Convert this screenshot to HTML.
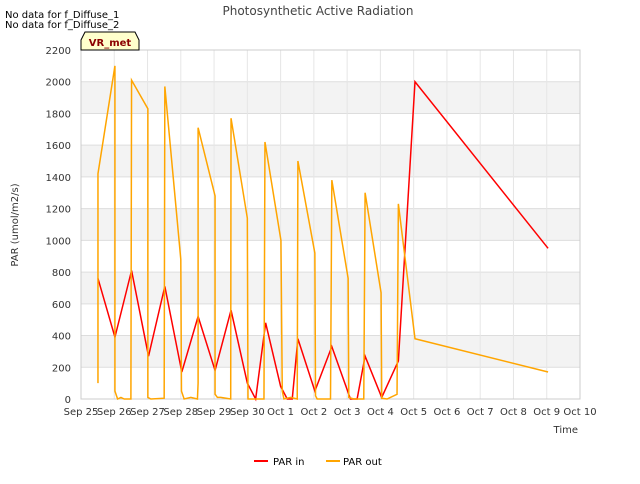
<!DOCTYPE html><html><head><meta charset="utf-8"><style>body{margin:0;background:#fff;font-family:"DejaVu Sans","Liberation Sans",sans-serif}</style></head><body>
<svg width="640" height="480" font-family="DejaVu Sans, Liberation Sans, sans-serif">
<text x="5" y="18" font-size="10">No data for f_Diffuse_1</text>
<text x="5" y="28" font-size="10">No data for f_Diffuse_2</text>
<text x="318" y="15" font-size="12" fill="#444" text-anchor="middle">Photosynthetic Active Radiation</text>
<g id="plot"></g>
<path d="M81,40 L85,32 L135,32 L139,40 L139,50 L81,50 Z" fill="#ffffcc" stroke="#000"/>
<text x="110" y="46" font-size="10" font-weight="bold" fill="#8b0000" text-anchor="middle">VR_met</text>
<text transform="translate(18,225) rotate(-90)" font-size="10" fill="#333" text-anchor="middle">PAR (umol/m2/s)</text>
<text x="578" y="433" font-size="10" fill="#333" text-anchor="end">Time</text>
<g>
<line x1="254" y1="461" x2="268" y2="461" stroke="#ff0000" stroke-width="2"/>
<text x="273" y="465" font-size="10">PAR in</text>
<line x1="326" y1="461" x2="340" y2="461" stroke="#ffa500" stroke-width="2"/>
<text x="343" y="465" font-size="10">PAR out</text>
</g>
</svg>
<script>
const xTickLabels=["Sep 25","Sep 26","Sep 27","Sep 28","Sep 29","Sep 30","Oct 1","Oct 2","Oct 3","Oct 4","Oct 5","Oct 6","Oct 7","Oct 8","Oct 9","Oct 10"];
const yTicks=[0,200,400,600,800,1000,1200,1400,1600,1800,2000,2200];
const parInX=[0.51,1.02,1.52,2.03,2.52,3.03,3.52,4.03,4.51,5.0,5.25,5.55,6.0,6.2,6.35,6.52,7.03,7.54,8.1,8.3,8.54,9.04,9.54,10.04,14.04];
const parInY=[760,390,810,270,710,170,520,180,560,100,0,480,80,0,0,380,50,330,0,0,270,10,240,2000,950];
const parOutX=[0.51,0.51,1.02,1.02,1.1,1.2,1.3,1.5,1.52,2.01,2.01,2.1,2.5,2.52,3.0,3.02,3.1,3.3,3.5,3.52,3.52,4.03,4.03,4.1,4.2,4.5,4.51,5.0,5.02,5.5,5.53,6.01,6.05,6.1,6.3,6.5,6.52,7.03,7.05,7.1,7.5,7.54,8.03,8.05,8.2,8.5,8.54,9.02,9.04,9.2,9.5,9.54,10.04,14.04];
const parOutY=[100,1420,2100,50,0,10,0,0,2010,1830,10,0,5,1970,880,50,0,10,0,100,1710,1280,30,10,10,0,1770,1140,0,0,1620,1000,50,0,10,0,1500,920,20,0,0,1380,760,10,0,0,1300,670,5,0,30,1230,380,170];
const L=81,R=580,T=50,B=399,NS="http://www.w3.org/2000/svg";
const xs=d=>L+d*(R-L)/15, ys=v=>B-v*(B-T)/2200;
const g=document.getElementById('plot');
function mk(t,a){const e=document.createElementNS(NS,t);for(const k in a)e.setAttribute(k,a[k]);g.appendChild(e);return e;}
for(let i=0;i<yTicks.length-1;i++){if(i%2===1){const r=mk('rect',{x:L,y:ys(yTicks[i+1]),width:R-L,height:ys(yTicks[i])-ys(yTicks[i+1]),fill:'#f3f3f3'});

}}
yTicks.forEach(v=>{const l=mk('line',{x1:L,x2:R,y1:ys(v),y2:ys(v),stroke:'#ddd'});


const t=mk('text',{x:L-10,y:ys(v)+4,'font-size':10,'text-anchor':'end',fill:'#333'});t.textContent=v;

});
xTickLabels.forEach((s,i)=>{const l=mk('line',{x1:xs(i),x2:xs(i),y1:T,y2:B,stroke:'#e6e6e6'});


const t=mk('text',{x:xs(i),y:B+16,'font-size':10,'text-anchor':'middle',fill:'#333'});t.textContent=s;

});
const fr=mk('rect',{x:L,y:T,width:R-L,height:B-T,fill:'none',stroke:'#ccc'});


function line(X,Y,c,n){const p=mk('polyline',{points:X.map((x,i)=>xs(x)+','+ys(Y[i])).join(' '),fill:'none',stroke:c,'stroke-width':1.5});

}
line(parInX,parInY,'#ff0000','par-in-line');
line(parOutX,parOutY,'#ffa500','par-out-line');
</script></body></html>
